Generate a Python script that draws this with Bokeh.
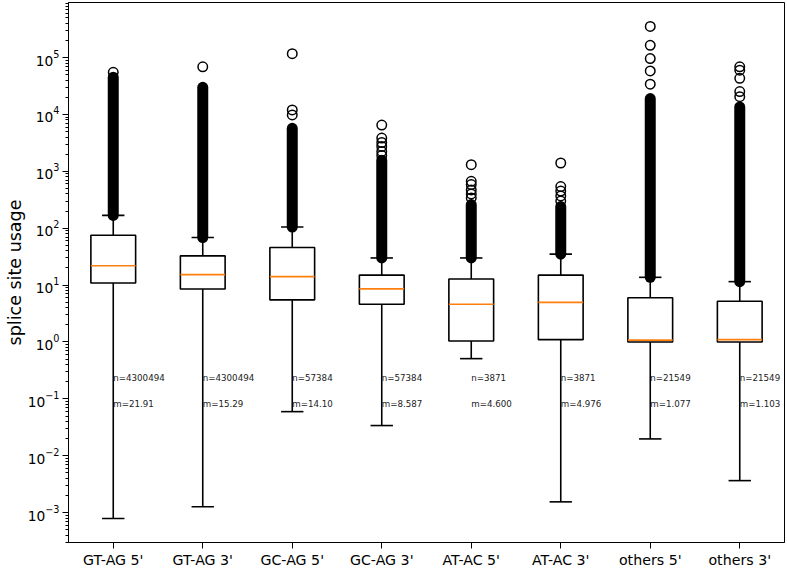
from bokeh.plotting import figure
from bokeh.models import FactorRange, Range1d, LogTicker, ColumnDataSource
from bokeh.transform import dodge
from bokeh.core.properties import value
from bokeh.embed import file_html
from bokeh.resources import INLINE
import math

# ---------------- data ----------------
categories = ["GT-AG 5'", "GT-AG 3'", "GC-AG 5'", "GC-AG 3'",
              "AT-AC 5'", "AT-AC 3'", "others 5'", "others 3'"]
n_sites = [4300494, 4300494, 57384, 57384, 3871, 3871, 21549, 21549]
medians = [21.91, 15.29, 14.10, 8.587, 4.600, 4.976, 1.077, 1.103]
q1 = [10.9, 8.55, 5.49, 4.62, 1.04, 1.10, 1.0, 1.0]
q3 = [75.0, 32.7, 45.8, 15.0, 12.8, 15.0, 6.0, 5.2]
whisker_low = [0.00079, 0.00127, 0.0597, 0.034, 0.51, 0.00155, 0.0198, 0.00366]
whisker_high = [168.0, 68.5, 105.0, 30.0, 30.0, 35.0, 13.7, 11.5]
# densely packed outliers (drawn as a solid column): from the cap up to this value
dense_top = [45000, 30000, 5700, 1570, 260, 240, 19000, 13500]
# individually visible outliers above the dense column
outliers = [
    [55000],
    [68500],
    [9800, 12000, 117000],
    [1900, 2240, 2740, 3210, 3840, 6500],
    [340, 400, 470, 585, 668, 1310],
    [300, 370, 450, 540, 1400],
    [34000, 58000, 96000, 164000, 352000],
    [20500, 25200, 43000, 60000, 68500],
]


def fmt_median(m):
    digits = 3 - int(math.floor(math.log10(m)))
    return f"m={m:.{digits}f}"


src = ColumnDataSource(dict(
    cat=categories, q1=q1, q3=q3, med=medians,
    lo=whisker_low, hi=whisker_high, dtop=dense_top,
    ntext=[f"n={n}" for n in n_sites],
    mtext=[fmt_median(m) for m in medians],
    ny=[0.23] * len(categories), my=[0.08] * len(categories),
))

fl_cat = [c for c, vals in zip(categories, outliers) for _ in vals]
fl_val = [v for vals in outliers for v in vals]
fsrc = ColumnDataSource(dict(cat=fl_cat, val=fl_val))

FONT = "DejaVu Sans"

p = figure(x_range=FactorRange(factors=categories),
           y_range=Range1d(10 ** -3.524, 10 ** 5.967),
           y_axis_type="log", width=787, height=570,
           output_backend="svg", toolbar_location=None,
           min_border_left=68, min_border_right=3,
           min_border_top=2, min_border_bottom=25)
p.background_fill_color = "white"
p.border_fill_color = "white"
p.xgrid.visible = False
p.ygrid.visible = False
p.outline_line_color = "black"
p.outline_line_width = 1
p.outline_line_alpha = 1

x_r = p.x_range
lw = 1.6

# whiskers
p.segment(x0="cat", x1="cat", y0="q3", y1="hi", source=src, line_color="black", line_width=lw)
p.segment(x0="cat", x1="cat", y0="q1", y1="lo", source=src, line_color="black", line_width=lw)
# caps
p.segment(x0=dodge("cat", -0.125, range=x_r), x1=dodge("cat", 0.125, range=x_r),
          y0="hi", y1="hi", source=src, line_color="black", line_width=lw)
p.segment(x0=dodge("cat", -0.125, range=x_r), x1=dodge("cat", 0.125, range=x_r),
          y0="lo", y1="lo", source=src, line_color="black", line_width=lw)
# boxes
p.vbar(x="cat", width=0.5, bottom="q1", top="q3", source=src,
       fill_color=None, line_color="black", line_width=lw)
# medians
p.segment(x0=dodge("cat", -0.25, range=x_r), x1=dodge("cat", 0.25, range=x_r),
          y0="med", y1="med", source=src, line_color="#ff7f0e", line_width=lw)
# dense outliers column
p.segment(x0="cat", x1="cat", y0="hi", y1="dtop", source=src,
          line_color="black", line_width=11, line_cap="round")
# individual outliers
p.scatter(x="cat", y="val", source=fsrc, marker="circle", size=9.5,
          fill_color=None, line_color="black", line_width=1.5)
# annotations
p.text(x="cat", y="ny", text="ntext", source=src, text_font=value(FONT),
       text_font_size="8.7px", text_align="left", text_baseline="middle",
       text_color="#222222")
p.text(x="cat", y="my", text="mtext", source=src, text_font=value(FONT),
       text_font_size="8.7px", text_align="left", text_baseline="middle",
       text_color="#222222")

# axes
xa = p.xaxis[0]
xa.major_tick_out = 6
xa.major_tick_in = 0
xa.major_tick_line_color = "black"
xa.axis_line_color = "black"
xa.major_label_standoff = 3
xa.major_label_text_font = FONT
xa.major_label_text_font_size = "14.2px"
xa.major_label_text_color = "black"

ya = p.yaxis[0]
ya.ticker = LogTicker(desired_num_ticks=10, mantissas=[1], num_minor_ticks=10)
ya.major_tick_out = 6
ya.major_tick_in = 0
ya.minor_tick_out = 3
ya.minor_tick_in = 0
ya.major_tick_line_color = "black"
ya.minor_tick_line_color = "black"
ya.axis_line_color = "black"
ya.major_label_standoff = 3
ya.major_label_text_font = FONT
ya.major_label_text_font_size = "13.8px"
ya.major_label_text_color = "black"
ya.axis_label = "splice site usage"
ya.axis_label_text_font = FONT
ya.axis_label_text_font_size = "17.5px"
ya.axis_label_text_font_style = "normal"
ya.axis_label_text_color = "black"
ya.axis_label_standoff = 0

open("out.html", "w").write(file_html(p, INLINE))
